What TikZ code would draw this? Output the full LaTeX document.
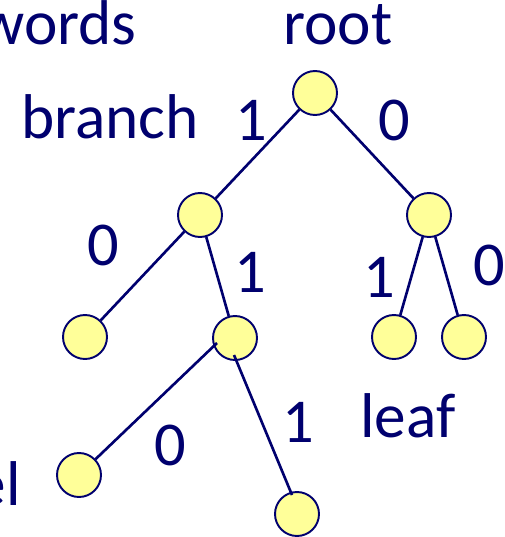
\documentclass[tikz,border=0pt]{standalone}
\usepackage{fontspec}
\setmainfont{Carlito}
\usepackage{tikz}
\usetikzlibrary{positioning}
\definecolor{navy}{RGB}{0,0,110}
\definecolor{pale}{RGB}{255,255,153}
\tikzset{
  vertex/.style={circle, draw=navy, fill=pale, line width=1.1pt, minimum size=0.88cm, inner sep=0pt},
  edge/.style={navy, line width=1.5pt},
  word/.style={text=navy, font=\fontsize{36}{42}\selectfont, inner sep=0pt},
  bit/.style={text=navy, font=\fontsize{35.5}{42}\selectfont, inner sep=0pt},
}

\begin{document}
\begin{tikzpicture}[x=0.02cm, y=-0.02cm]
  \useasboundingbox (0,0) rectangle (504,537);

  \node[vertex] (node1) at (315,93) {};
  \node[vertex] (node2) at (200,215) {};
  \node[vertex] (node3) at (429,215) {};
  \node[vertex] (node4) at (85,337) {};
  \node[vertex] (node5) at (235,338) {};
  \node[vertex] (node6) at (394,337) {};
  \node[vertex] (node7) at (464,337) {};
  \node[vertex] (node8) at (79,475) {};
  \node[vertex] (node9) at (297,514) {};

  % the lower edges of node5 run into the circles
  \coordinate (in5a) at ([shift={(-18,5)}]node5.center);
  \coordinate (in5b) at ([shift={(-1,17)}]node5.center);
  \coordinate (in9) at ([shift={(-5,-19)}]node9.center);

  \draw[edge] (node1) -- (node2);
  \draw[edge] (node1) -- (node3);
  \draw[edge] (node2) -- (node4);
  \draw[edge] (node2) -- (node5);
  \draw[edge] (node3) -- (node6);
  \draw[edge] (node3) -- (node7);
  \draw[edge] (in5a) -- (node8);
  \draw[edge] (in5b) -- (in9);

  \node[word, anchor=base east] (words) at (137,45) {words};
  \node[word, anchor=base] (root) at (338,45) {root};
  \node[word, anchor=base] (branch) at (110,138) {branch};
  \node[word, anchor=base] (leaf) at (408,437) {leaf};
  \node[word, anchor=base east] (label) at (21,505) {el};

  \node[bit, anchor=base] (b1) at (251,140) {1};
  \node[bit, anchor=base] (b2) at (394,140) {0};
  \node[bit, anchor=base] (b3) at (103,265) {0};
  \node[bit, anchor=base] (b4) at (250,292) {1};
  \node[bit, anchor=base] (b5) at (379,297) {1};
  \node[bit, anchor=base] (b6) at (489,285) {0};
  \node[bit, anchor=base] (b7) at (170,465) {0};
  \node[bit, anchor=base] (b8) at (298,442) {1};
\end{tikzpicture}
\end{document}
